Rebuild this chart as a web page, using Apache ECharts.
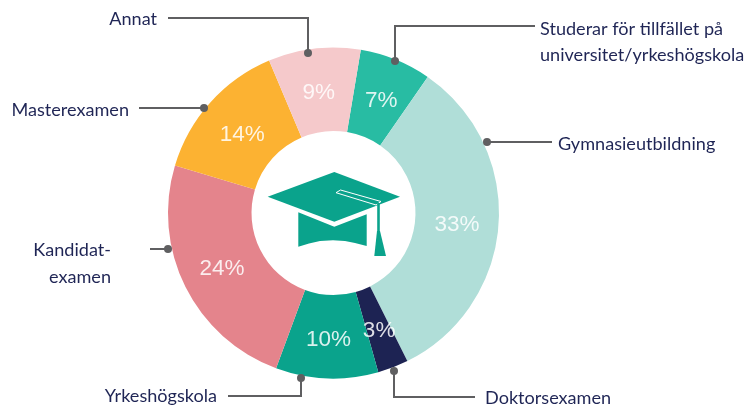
<!DOCTYPE html>
<html><head><meta charset="utf-8"><style>html,body{margin:0;background:#fff}#c{width:748px;height:407px}</style>
<script src="https://cdn.jsdelivr.net/npm/echarts@6/dist/echarts.min.js"></script></head>
<body><div id="c"></div><script>
const categories = ["Studerar för tillfället på universitet/yrkeshögskola","Gymnasieutbildning","Doktorsexamen","Yrkeshögskola","Kandidatexamen","Masterexamen","Annat"];
const percent = [7,33,3,10,24,14,9];
const colors = ["#28BCA3","#B0DED8","#1D2353","#0AA38C","#E4848C","#FCB232","#F5C9CB"];
const labelNudge = [[0,5],[-3,3],[0,0],[0,0],[2,-1],[3,6],[0,6]];

const leaders = [
 {lines:["Studerar för tillfället på","universitet/yrkeshögskola"],align:"left",tx:540,ty:29,lh:26,pts:[[395,61],[395,26],[535,26]]},
 {lines:["Gymnasieutbildning"],align:"left",tx:558,ty:144,lh:26,pts:[[487,142],[552,142]]},
 {lines:["Doktorsexamen"],align:"left",tx:485,ty:398,lh:26,pts:[[394,371],[394,397],[475,397]]},
 {lines:["Yrkeshögskola"],align:"right",tx:217,ty:396,lh:26,pts:[[301,378],[301,396],[228,396]]},
 {lines:["Kandidat-","examen"],align:"right",tx:111,ty:250,lh:27,pts:[[168,249],[150,249]]},
 {lines:["Masterexamen"],align:"right",tx:129,ty:110,lh:26,pts:[[204,108],[139,108]]},
 {lines:["Annat"],align:"right",tx:157,ty:19,lh:26,pts:[[308,53],[308,18],[168,18]]}
];
const graphics = [];
leaders.forEach(l=>{
 graphics.push({type:"polyline",z:10,shape:{points:l.pts},style:{stroke:"#5F5F61",lineWidth:2,fill:null}});
 graphics.push({type:"circle",z:11,shape:{cx:l.pts[0][0],cy:l.pts[0][1],r:4},style:{fill:"#5F5F61"}});
 l.lines.forEach((t,i)=>graphics.push({type:"text",z:11,x:l.tx,y:l.ty+i*l.lh,style:{text:t,align:l.align,verticalAlign:"middle",fill:"#1F2555",font:'18.1px Lato'}}));
});
const teal="#0AA38C";
graphics.push(
 {type:"polygon",z:12,shape:{points:[[334.3,172],[400,196.7],[334.3,221.7],[267.7,196.7]]},style:{fill:teal}},
 {type:"polygon",z:12,shape:{points:[[298.3,212.3],[334.3,226.7],[366.7,214.3],[366.7,246],[355,243],[345,241],[333,240.3],[320,241],[309,243.5],[298.3,246.7]]},style:{fill:teal}},
 {type:"polygon",z:13,shape:{points:[[336,192.7],[340.5,190],[381,201.5],[376,205]]},style:{fill:teal,stroke:"#fff",lineWidth:1}},
 {type:"polyline",z:13,shape:{points:[[378.5,203],[378.5,232]]},style:{stroke:teal,lineWidth:2.6,fill:null}},
 {type:"polygon",z:13,shape:{points:[[377,231],[380,231],[386,256],[374.3,256]]},style:{fill:teal}}
);
echarts.init(document.getElementById("c"),null,{renderer:"canvas"}).setOption({
 animation:false,
 series:[{type:"pie",center:[333.5,213],radius:[82,165.5],startAngle:80.5,clockwise:true,silent:true,
  label:{show:true,position:"inside",formatter:"{c}%",color:"rgba(255,255,255,.85)",fontFamily:"Liberation Sans",fontSize:22.5},
  labelLine:{show:false},
  labelLayout:p=>({dx:labelNudge[p.dataIndex][0],dy:labelNudge[p.dataIndex][1]}),
  data:categories.map((n,i)=>({name:n,value:percent[i],itemStyle:{color:colors[i]}}))}],
 graphic:graphics
});
</script></body></html>
